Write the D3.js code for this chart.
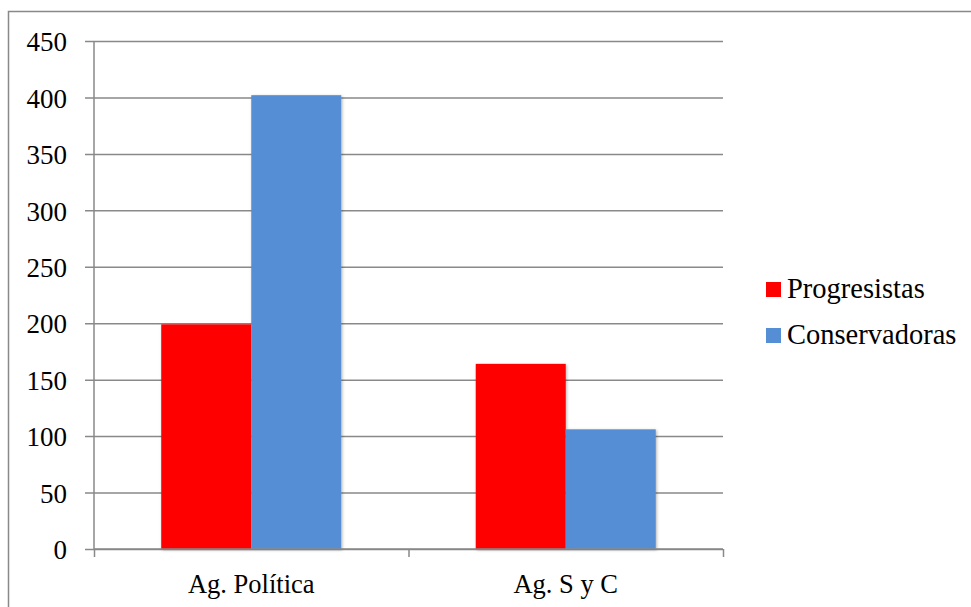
<!DOCTYPE html>
<html>
<head>
<meta charset="utf-8">
<script src="https://cdn.jsdelivr.net/npm/d3@7"></script>
<style>
  html, body { margin: 0; padding: 0; background: #fff; }
  svg { display: block; }
</style>
</head>
<body>
<svg id="chart" width="971" height="607"></svg>
<script>
const categories = ["Ag. Política", "Ag. S y C"];
const seriesNames = ["Progresistas", "Conservadoras"];
const progresistas = [199, 164];
const conservadoras = [402, 106];
const yTicks = [0, 50, 100, 150, 200, 250, 300, 350, 400, 450];
const colors = ["#FF0000", "#558ED5"];

const FONT = "Liberation Serif";

const seriesValues = [progresistas, conservadoras];
const data = categories.map((c, i) => ({
  category: c,
  values: seriesNames.map((s, j) => ({ series: s, value: seriesValues[j][i], color: colors[j] }))
}));

const svg = d3.select("#chart");

const defs = svg.append("defs");
const f = defs.append("filter").attr("id", "shadow").attr("x", "-10%").attr("y", "-10%").attr("width", "130%").attr("height", "130%");
f.append("feDropShadow").attr("dx", 1).attr("dy", 1).attr("stdDeviation", 1.5).attr("flood-color", "#000").attr("flood-opacity", 0.3);

// outer chart border
svg.append("rect")
  .attr("x", 8.5).attr("y", 11.5)
  .attr("width", 1000).attr("height", 700)
  .attr("fill", "none").attr("stroke", "#898989").attr("stroke-width", 1.5);

const plotLeft = 94, plotRight = 723, plotTop = 41, plotBottom = 549;

const y = d3.scaleLinear().domain([0, 450]).range([plotBottom, plotTop]);
const x0 = d3.scaleBand().domain(categories).range([plotLeft, plotRight]).padding(0);
const x1 = d3.scaleBand().domain(seriesNames).range([0, x0.bandwidth()]).paddingInner(0).paddingOuter(0.747);

// gridlines + y tick labels
const yAxis = d3.axisLeft(y).tickValues(yTicks).tickSize(plotRight - plotLeft + 9).tickPadding(18);
const yg = svg.append("g").attr("transform", `translate(${plotRight},0)`).call(yAxis);
yg.attr("font-family", FONT).attr("font-size", 27);
yg.select(".domain").remove();
yg.selectAll(".tick line").attr("stroke", "#898989").attr("stroke-width", 1.5);
yg.selectAll(".tick text")
  .attr("font-family", FONT)
  .attr("font-size", 27)
  .attr("dy", "0.36em")
  .attr("fill", "#000");

// bars
const groups = svg.append("g").selectAll("g").data(data).join("g")
  .attr("transform", d => `translate(${x0(d.category)},0)`);
groups.selectAll("rect").data(d => d.values).join("rect")
  .attr("x", d => x1(d.series))
  .attr("y", d => y(d.value))
  .attr("width", x1.bandwidth())
  .attr("height", d => y(0) - y(d.value))
  .attr("fill", d => d.color)
  .attr("filter", "url(#shadow)");

// y axis line
svg.append("line")
  .attr("x1", plotLeft).attr("x2", plotLeft)
  .attr("y1", plotTop).attr("y2", plotBottom)
  .attr("stroke", "#898989").attr("stroke-width", 1.5);

// x axis
const xAxisScale = d3.scaleLinear().domain([0, categories.length]).range([plotLeft, plotRight]);
const xg = svg.append("g").attr("transform", `translate(0,${plotBottom})`)
  .call(d3.axisBottom(xAxisScale).tickValues(d3.range(categories.length + 1)).tickSize(8).tickFormat(""));
xg.select(".domain").attr("stroke", "#898989").attr("stroke-width", 1.5).attr("d", `M${plotLeft},0H${plotRight}`);
xg.selectAll(".tick line").attr("stroke", "#898989").attr("stroke-width", 1.5);

// category labels
svg.append("g").selectAll("text").data(categories).join("text")
  .attr("x", d => x0(d) + x0.bandwidth() / 2)
  .attr("y", 593)
  .attr("text-anchor", "middle")
  .attr("font-family", FONT)
  .attr("font-size", 26.5)
  .text(d => d);

// legend
const legend = svg.append("g").selectAll("g").data(seriesNames).join("g")
  .attr("transform", (d, i) => `translate(766,${282 + i * 46})`);
legend.append("rect")
  .attr("width", 15).attr("height", 15)
  .attr("fill", (d, i) => colors[i]);
legend.append("text")
  .attr("x", 21).attr("y", 16)
  .attr("font-family", FONT)
  .attr("font-size", 28.5)
  .text(d => d);
</script>
</body>
</html>
